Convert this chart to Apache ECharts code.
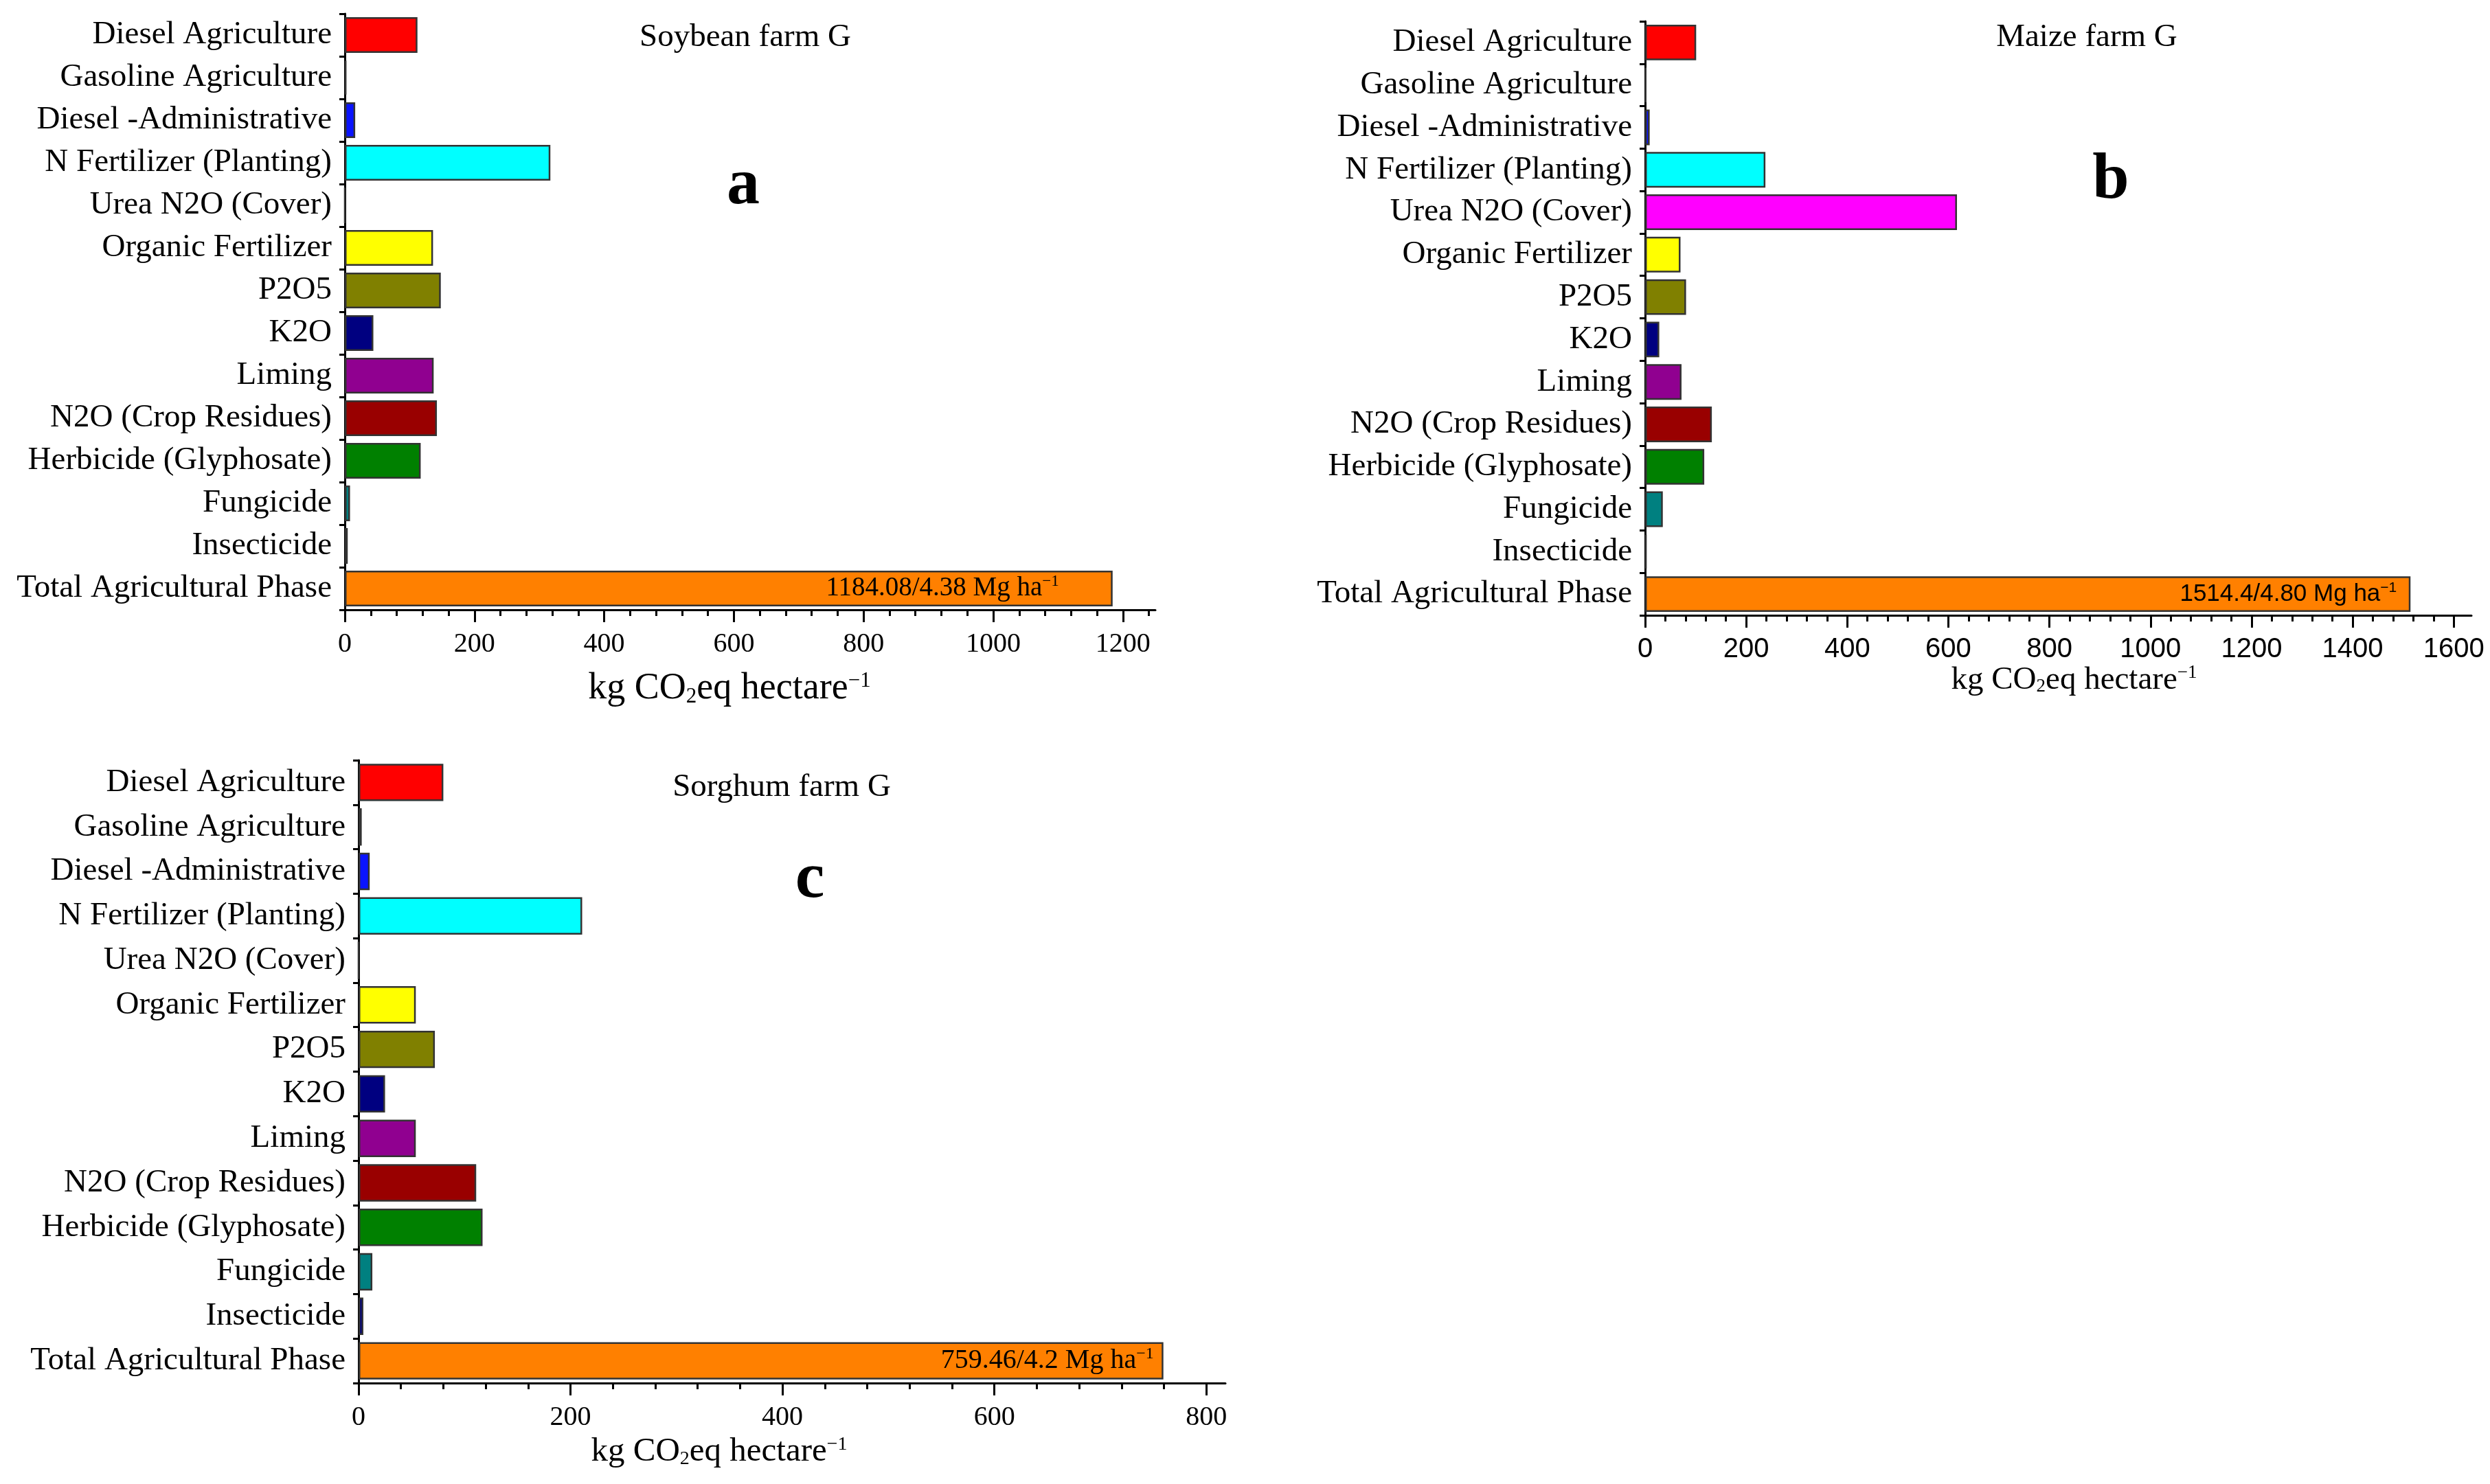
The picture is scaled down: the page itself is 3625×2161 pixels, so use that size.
<!DOCTYPE html>
<html>
<head>
<meta charset="utf-8">
<script src="https://cdn.jsdelivr.net/npm/echarts@6/dist/echarts.min.js"></script>
<style>
  html, body { margin: 0; background: #fff; }
  #chart { width: 3625px; height: 2161px; }
</style>
</head>
<body>
<div id="chart"></div>
<script>
// emission sources, top to bottom
const categories = [
    'Diesel Agriculture', 'Gasoline Agriculture', 'Diesel -Administrative',
    'N Fertilizer (Planting)', 'Urea N2O (Cover)', 'Organic Fertilizer',
    'P2O5', 'K2O', 'Liming', 'N2O (Crop Residues)', 'Herbicide (Glyphosate)',
    'Fungicide', 'Insecticide', 'Total Agricultural Phase'
];
const soybean = [112, 2.5, 16, 317, 0, 136, 148, 44, 137, 142, 117, 8, 4.5, 1184.08];
const maize = [101, 2, 9, 238, 617, 70, 81, 28, 72, 132, 117, 35, 3, 1514.4];
const sorghum = [80, 3, 10.5, 211, 0, 54, 72, 25, 54, 111, 117, 13, 4.5, 759.46];
const barColors = [
    '#ff0000', '#00a000', '#0a14ff', '#00ffff', '#ff00ff', '#ffff00',
    '#808000', '#000080', '#900090', '#990000', '#008000', '#008080',
    '#000080', '#ff8000'
];
const totalTexts = ['1184.08/4.38 Mg ha', '1514.4/4.80 Mg ha', '759.46/4.2 Mg ha'];
const panelTitles = ['Soybean farm G', 'Maize farm G', 'Sorghum farm G'];
const panelLetters = ['a', 'b', 'c'];
const axisMax = [1250, 1635, 818];
const majorStep = 200;
const minorStep = 40;

const SERIF = '"Liberation Serif", "Times New Roman", serif';
const SANS = '"Liberation Sans", Arial, sans-serif';

// layout of the three panels
const panels = [
    {values: soybean, grid: {left: 502, top: 20, width: 1180, height: 868},
     title: [1080, 26], letter: [1077, 218], nameGap: 88, nameSize: 54, namePad: [0, 60, 0, 0],
     tickFont: SERIF, labelFont: SERIF, labelSize: 39, labelDist: 78},
    {values: maize, grid: {left: 2395, top: 31, width: 1203, height: 865},
     title: [3033, 26], letter: [3068, 210], nameGap: 48, nameSize: 47, namePad: [0, 0, 0, 46],
     tickFont: SANS, labelFont: SANS, labelSize: 35, labelDist: 20},
    {values: sorghum, grid: {left: 522, top: 1107, width: 1262, height: 907},
     title: [1133, 1118], letter: [1174, 1228], nameGap: 76, nameSize: 49, namePad: [0, 212, 0, 0],
     tickFont: SERIF, labelFont: SERIF, labelSize: 40, labelDist: 14}
];

function steps(max, step, skip) {
    const out = [];
    for (let v = 0; v <= max; v += step) {
        if (!skip || v % skip !== 0) out.push(v);
    }
    return out;
}

const chart = echarts.init(document.getElementById('chart'), null, {renderer: 'canvas'});

const grids = [], xAxes = [], yAxes = [], series = [], titles = [];

panels.forEach(function (p, i) {
    grids.push(Object.assign({containLabel: false}, p.grid));

    xAxes.push({
        type: 'value', gridIndex: i, position: 'bottom',
        min: 0, max: axisMax[i], interval: majorStep,
        axisLine: {show: true, lineStyle: {color: '#000', width: 3}},
        axisTick: {show: true, length: 18, customValues: steps(axisMax[i], majorStep),
                   lineStyle: {color: '#000', width: 3}},
        axisLabel: {show: true, customValues: steps(axisMax[i], majorStep), margin: 30,
                    color: '#000', fontFamily: p.tickFont, fontSize: 40,
                    formatter: function (v) { return String(v); }},
        splitLine: {show: false},
        name: 'kg CO{sub|2}eq hectare{sup|\u22121}',
        nameLocation: 'middle', nameGap: p.nameGap,
        nameTextStyle: {
            color: '#000', fontFamily: SERIF, fontSize: p.nameSize, padding: p.namePad,
            rich: {
                sub: {fontFamily: SERIF, fontSize: Math.round(p.nameSize * 0.58), color: '#000', verticalAlign: 'bottom'},
                sup: {fontFamily: SERIF, fontSize: Math.round(p.nameSize * 0.58), color: '#000', verticalAlign: 'top'}
            }
        }
    });

    yAxes.push({
        type: 'category', gridIndex: i, inverse: true, data: categories,
        axisLine: {show: true, lineStyle: {color: '#000', width: 3}},
        axisTick: {show: true, length: 8, lineStyle: {color: '#000', width: 3}},
        axisLabel: {color: '#000', fontFamily: SERIF, fontSize: 47, margin: 19},
        splitLine: {show: false}
    });

    series.push({
        type: 'bar', xAxisIndex: i, yAxisIndex: i,
        barCategoryGap: '16%',
        data: p.values.map(function (v, k) {
            const item = {value: v, itemStyle: {color: barColors[k]}};
            if (k === categories.length - 1) {
                item.label = {
                    show: true, position: 'insideRight', distance: p.labelDist,
                    formatter: '{t|' + totalTexts[i] + '}{s|\u22121}',
                    rich: {
                        t: {fontFamily: p.labelFont, fontSize: p.labelSize, color: '#000', lineHeight: p.labelSize + 4},
                        s: {fontFamily: p.labelFont, fontSize: Math.round(p.labelSize * 0.6), color: '#000', verticalAlign: 'top'}
                    }
                };
            }
            return item;
        }),
        itemStyle: {borderColor: '#333', borderWidth: 2.5},
        silent: true,
        animation: false
    });

    titles.push({
        text: panelTitles[i], left: p.title[0], top: p.title[1], textAlign: 'center',
        textStyle: {color: '#000', fontFamily: SERIF, fontSize: 47, fontWeight: 'normal'}
    });
    titles.push({
        text: panelLetters[i], left: p.letter[0], top: p.letter[1], textAlign: 'center',
        textStyle: {color: '#000', fontFamily: SERIF, fontSize: 96, fontWeight: 'bold'}
    });
});

// overlay axes carrying only the minor ticks
panels.forEach(function (p, i) {
    xAxes.push({
        type: 'value', gridIndex: i, position: 'bottom',
        min: 0, max: axisMax[i], interval: minorStep,
        axisLine: {show: false},
        axisTick: {show: true, length: 9, customValues: steps(axisMax[i], minorStep, majorStep),
                   lineStyle: {color: '#000', width: 3}},
        axisLabel: {show: false},
        splitLine: {show: false}
    });
});

chart.setOption({
    backgroundColor: '#fff',
    animation: false,
    title: titles,
    grid: grids,
    xAxis: xAxes,
    yAxis: yAxes,
    series: series
});
</script>
</body>
</html>
